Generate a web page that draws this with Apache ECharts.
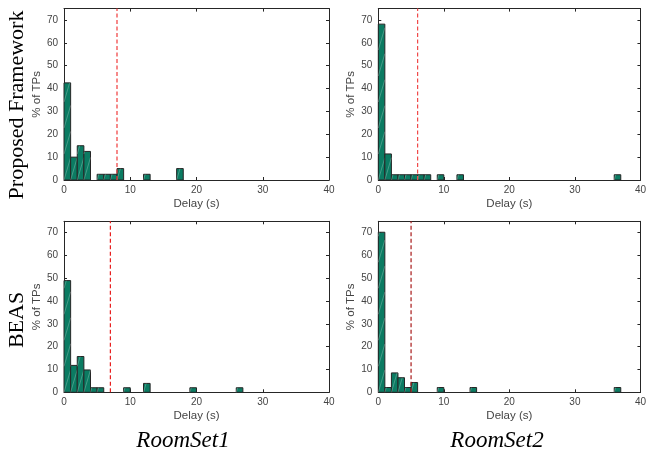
<!DOCTYPE html>
<html><head><meta charset="utf-8">
<script src="https://cdn.jsdelivr.net/npm/echarts@6/dist/echarts.min.js"></script>
<style>html,body{margin:0;padding:0;background:#fff}#c{width:649px;height:455px}</style>
</head><body><div id="c"></div>
<script>
// ---- data (histogram bins of width 1 s, values in % of TPs) ----
const binWidth = 1;
const pfRoom1Bins = [0, 1, 2, 3, 5, 6, 7, 8, 12, 17];
const pfRoom1Pct  = [42.5, 10, 15, 12.5, 2.5, 2.5, 2.5, 5, 2.5, 5];
const pfRoom2Bins = [0, 1, 2, 3, 4, 5, 6, 7, 9, 12, 36];
const pfRoom2Pct  = [68.2, 11.4, 2.3, 2.3, 2.3, 2.3, 2.3, 2.3, 2.3, 2.3, 2.3];
const beasRoom1Bins = [0, 1, 2, 3, 4, 5, 9, 12, 19, 26];
const beasRoom1Pct  = [49.0, 11.8, 15.7, 9.8, 2.0, 2.0, 2.0, 3.9, 2.0, 2.0];
const beasRoom2Bins = [0, 1, 2, 3, 4, 5, 9, 14, 36];
const beasRoom2Pct  = [70.2, 2.1, 8.5, 6.4, 2.1, 4.3, 2.1, 2.1, 2.1];
const thresholds = [8, 6, 7, 5];
const xTicks = [0, 10, 20, 30, 40];
const yTicks = [0, 10, 20, 30, 40, 50, 60, 70];
const rowLabels = ['Proposed Framework', 'BEAS'];
const colLabels = ['RoomSet1', 'RoomSet2'];
const xName = 'Delay (s)';
const yName = '% of TPs';

const panels = [
  {bins: pfRoom1Bins, pct: pfRoom1Pct, thr: thresholds[0], lineColor: '#f03a3a'},
  {bins: pfRoom2Bins, pct: pfRoom2Pct, thr: thresholds[1], lineColor: '#f04a4a'},
  {bins: beasRoom1Bins, pct: beasRoom1Pct, thr: thresholds[2], lineColor: '#e82020'},
  {bins: beasRoom2Bins, pct: beasRoom2Pct, thr: thresholds[3], lineColor: '#a81818'}
];

const grids = [
  {left: 64, top: 8.6, width: 265, height: 171.4},
  {left: 378.3, top: 8.6, width: 264.4, height: 171.4},
  {left: 64, top: 221.3, width: 265, height: 171},
  {left: 378.3, top: 221.3, width: 264.4, height: 171}
];

const axisColor = '#262626';
const labelColor = '#444';
const fontSans = "'Liberation Sans', Arial, Helvetica, sans-serif";
const fontSerif = "'Liberation Serif', 'Times New Roman', serif";

function hatch(x0, yb, w, h) {
  const segs = [];
  const k = 3.4, s = 26;
  for (let c = 0; c < h; c += s) {
    const a = 0, b = Math.min(w, (h - c) / k);
    if (b > a) segs.push({
      type: 'line',
      shape: {x1: x0 + a, y1: yb - c - k * a, x2: x0 + b, y2: yb - c - k * b},
      style: {stroke: 'rgba(255,255,255,0.3)', lineWidth: 0.8}
    });
  }
  return segs;
}

function renderBar(params, api) {
  const x = api.value(0), v = api.value(1);
  const p0 = api.coord([x, 0]);
  const p1 = api.coord([x + binWidth, v]);
  const w = p1[0] - p0[0], h = p0[1] - p1[1];
  return {
    type: 'group',
    children: [
      {type: 'rect', shape: {x: p0[0], y: p1[1], width: w, height: h},
       style: {fill: '#0b7b62', stroke: '#262626', lineWidth: 1}},
      ...hatch(p0[0], p0[1], w, h)
    ]
  };
}

const xAxes = [], yAxes = [], series = [];
grids.forEach((g, i) => {
  const base = {
    gridIndex: i, type: 'value', min: xTicks[0], max: xTicks[xTicks.length - 1], interval: 10,
    axisLine: {show: true, onZero: false, lineStyle: {color: axisColor, width: 1}},
    axisTick: {show: true, inside: true, length: 3, lineStyle: {color: axisColor}},
    splitLine: {show: false}
  };
  xAxes.push(Object.assign({}, base, {
    position: 'bottom', name: xName, nameLocation: 'middle', nameGap: 18,
    nameTextStyle: {fontFamily: fontSans, fontSize: 11.5, color: labelColor},
    axisLabel: {fontFamily: fontSans, fontSize: 10, color: labelColor, margin: 5}
  }));
  xAxes.push(Object.assign({}, base, {position: 'top', axisLabel: {show: false}}));
  const ybase = {
    gridIndex: i, type: 'value', min: 0, max: 75, interval: 10,
    axisLine: {show: true, onZero: false, lineStyle: {color: axisColor, width: 1}},
    axisTick: {show: true, inside: true, length: 3, lineStyle: {color: axisColor}},
    splitLine: {show: false}
  };
  yAxes.push(Object.assign({}, ybase, {
    position: 'left', name: yName, nameLocation: 'middle', nameGap: 20,
    nameTextStyle: {fontFamily: fontSans, fontSize: 11.5, color: labelColor},
    axisLabel: {fontFamily: fontSans, fontSize: 10, color: labelColor, margin: 6,
      formatter: v => (yTicks.indexOf(v) >= 0 ? String(v) : '')}
  }));
  yAxes.push(Object.assign({}, ybase, {position: 'right', axisLabel: {show: false}}));

  const p = panels[i];
  series.push({
    type: 'custom', xAxisIndex: 2 * i, yAxisIndex: 2 * i,
    renderItem: renderBar, encode: {x: 0, y: 1},
    data: p.bins.map((b, j) => [b, p.pct[j]]), silent: true, animation: false
  });
  series.push({
    type: 'line', xAxisIndex: 2 * i, yAxisIndex: 2 * i, symbol: 'none',
    data: [[p.thr, 0], [p.thr, 75]],
    lineStyle: {color: p.lineColor, width: 1.2, type: [4, 2.5]},
    silent: true, animation: false, z: 5
  });
});

const graphic = [
  {type: 'text', x: 17, y: 105, rotation: Math.PI / 2,
   style: {text: rowLabels[0], font: '22px ' + fontSerif, fill: '#000', align: 'center', verticalAlign: 'middle'}},
  {type: 'text', x: 17, y: 320, rotation: Math.PI / 2,
   style: {text: rowLabels[1], font: '22px ' + fontSerif, fill: '#000', align: 'center', verticalAlign: 'middle'}},
  {type: 'text', x: 183, y: 441,
   style: {text: colLabels[0], font: 'italic 23px ' + fontSerif, fill: '#000', align: 'center', verticalAlign: 'middle'}},
  {type: 'text', x: 497, y: 441,
   style: {text: colLabels[1], font: 'italic 23px ' + fontSerif, fill: '#000', align: 'center', verticalAlign: 'middle'}}
];

const chart = echarts.init(document.getElementById('c'), null, {renderer: 'canvas'});
chart.setOption({
  backgroundColor: '#fff',
  animation: false,
  grid: grids,
  xAxis: xAxes,
  yAxis: yAxes,
  series: series,
  graphic: graphic
});
</script></body></html>
